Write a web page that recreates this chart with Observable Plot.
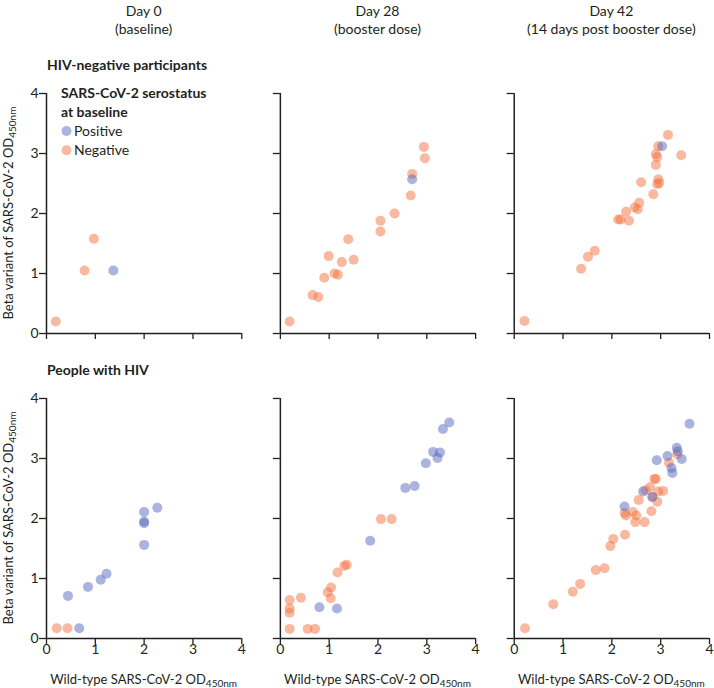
<!DOCTYPE html>
<html>
<head>
<meta charset="utf-8">
<script src="https://cdn.jsdelivr.net/npm/d3@7"></script>
<script src="https://cdn.jsdelivr.net/npm/@observablehq/plot@0.6"></script>
<style>
  body { margin: 0; background: #fff; }
  #chart { width: 714px; height: 688px; }
</style>
</head>
<body>
<div id="chart"></div>
<script>
const FONT = "Lato, 'Noto Sans', sans-serif";
const INK = "#231f20";

const days = ["Day 0", "Day 28", "Day 42"];
const dayNotes = ["(baseline)", "(booster dose)", "(14 days post booster dose)"];
const groups = ["HIV-negative participants", "People with HIV"];
const statuses = ["Positive", "Negative"];
const axisTicks = [0, 1, 2, 3, 4];
const xTitle = "Wild-type SARS-CoV-2 OD";
const yTitle = "Beta variant of SARS-CoV-2 OD";
const subscript = "450nm";
const legendTitle = ["SARS-CoV-2 serostatus", "at baseline"];

// [wild-type OD, beta variant OD]
const hivNegDay0Pos = [[1.37, 1.05]];
const hivNegDay0Neg = [[0.19, 0.20], [0.78, 1.05], [0.97, 1.58]];

const hivNegDay28Pos = [[2.70, 2.57]];
const hivNegDay28Neg = [[0.19, 0.20], [0.66, 0.64], [0.78, 0.61], [0.90, 0.93], [0.99, 1.29],
  [1.11, 1.00], [1.18, 0.98], [1.26, 1.19], [1.39, 1.57], [1.50, 1.23], [2.05, 1.88],
  [2.05, 1.70], [2.34, 2.00], [2.67, 2.30], [2.70, 2.66], [2.94, 3.11], [2.96, 2.92]];

const hivNegDay42Pos = [[3.03, 3.12]];
const hivNegDay42Neg = [[0.21, 0.21], [1.37, 1.08], [1.51, 1.28], [1.65, 1.38], [2.13, 1.90],
  [2.18, 1.90], [2.35, 1.88], [2.29, 2.03], [2.47, 2.10], [2.53, 2.07], [2.56, 2.18],
  [2.60, 2.52], [2.85, 2.32], [2.90, 2.81], [2.90, 2.99], [2.93, 2.94], [2.95, 3.12],
  [2.95, 2.57], [2.93, 2.49], [2.97, 2.51], [3.15, 3.31], [3.42, 2.97]];

const hivPosDay0Pos = [[0.67, 0.17], [0.44, 0.71], [0.85, 0.86], [1.11, 0.98], [1.23, 1.08],
  [2.00, 1.56], [2.00, 1.92], [2.00, 1.95], [2.00, 2.11], [2.27, 2.18]];
const hivPosDay0Neg = [[0.21, 0.17], [0.43, 0.17]];

const hivPosDay28Pos = [[0.80, 0.52], [1.16, 0.50], [1.84, 1.63], [2.56, 2.51], [2.75, 2.54],
  [2.98, 2.92], [3.13, 3.11], [3.22, 3.01], [3.27, 3.10], [3.33, 3.49], [3.46, 3.60]];
const hivPosDay28Neg = [[0.19, 0.16], [0.56, 0.16], [0.71, 0.16], [0.19, 0.43], [0.19, 0.50],
  [0.19, 0.64], [0.42, 0.68], [0.97, 0.77], [1.03, 0.67], [1.04, 0.85], [1.17, 1.10],
  [1.31, 1.21], [1.36, 1.23], [2.06, 1.99], [2.28, 1.99]];

const hivPosDay42Pos = [[2.26, 2.20], [2.64, 2.45], [2.83, 2.36], [2.92, 2.97], [3.14, 3.04],
  [3.22, 2.84], [3.24, 2.76], [3.33, 3.18], [3.35, 3.12], [3.43, 2.99], [3.59, 3.58]];
const hivPosDay42Neg = [[0.22, 0.17], [0.80, 0.57], [1.20, 0.78], [1.35, 0.91], [1.67, 1.14],
  [1.85, 1.17], [1.97, 1.54], [2.03, 1.66], [2.27, 1.73], [2.26, 2.09], [2.29, 2.05],
  [2.43, 2.11], [2.50, 2.05], [2.48, 1.94], [2.67, 1.94], [2.55, 2.31], [2.81, 2.12],
  [2.69, 2.47], [2.78, 2.52], [2.83, 2.36], [2.87, 2.66], [2.90, 2.66], [2.93, 2.28],
  [2.95, 2.45], [3.05, 2.46], [3.17, 2.93], [3.34, 3.07]];

const panels = [
  [0, 0, hivNegDay0Pos, hivNegDay0Neg], [0, 1, hivNegDay28Pos, hivNegDay28Neg], [0, 2, hivNegDay42Pos, hivNegDay42Neg],
  [1, 0, hivPosDay0Pos, hivPosDay0Neg], [1, 1, hivPosDay28Pos, hivPosDay28Neg], [1, 2, hivPosDay42Pos, hivPosDay42Neg]
];

const rows = [];
for (const [g, d, pos, neg] of panels) {
  for (const [x, y] of neg) rows.push({x, y, status: "Negative", day: days[d], group: groups[g]});
}
for (const [g, d, pos, neg] of panels) {
  for (const [x, y] of pos) rows.push({x, y, status: "Positive", day: days[d], group: groups[g]});
}

const colorRange = ["#5569bd", "#f37341"];
const DOT_R = 5;
const DOT_OP = 0.5;

const plot = Plot.plot({
  width: 714,
  height: 688,
  marginTop: 93,
  marginBottom: 50,
  marginLeft: 46,
  marginRight: 5,
  style: {fontFamily: FONT, fontSize: "14px", color: INK, background: "#fff"},
  fx: {domain: days, paddingInner: 0.165, paddingOuter: 0, axis: null, round: false},
  fy: {domain: groups, paddingInner: 0.213, paddingOuter: 0, axis: null, round: false},
  x: {domain: [0, 4], label: null},
  y: {domain: [0, 4], label: null},
  color: {domain: statuses, range: colorRange},
  marks: [
    Plot.axisX({facetAnchor: null, ticks: axisTicks, tickSize: 6, tickFormat: () => "", label: null, stroke: INK, strokeWidth: 1.3}),
    Plot.axisX({facetAnchor: "bottom", ticks: axisTicks, tickSize: 0, tickPadding: 6, tickFormat: d3.format("d"), label: null, fontSize: 14, fill: INK}),
    Plot.axisY({facetAnchor: null, ticks: axisTicks, tickSize: 7, tickFormat: () => "", label: null, stroke: INK, strokeWidth: 1.3}),
    Plot.axisY({facetAnchor: "left", ticks: axisTicks, tickSize: 0, tickPadding: 8, tickFormat: d3.format("d"), label: null, fontSize: 14, fill: INK}),
    Plot.ruleX([0], {y1: 0, y2: 4, stroke: INK, strokeWidth: 1.5}),
    Plot.ruleY([0], {x1: 0, x2: 4, stroke: INK, strokeWidth: 1.5}),
    Plot.dot(rows, {x: "x", y: "y", fx: "day", fy: "group", fill: "status", r: DOT_R, fillOpacity: DOT_OP, stroke: null})
  ]
});

document.getElementById("chart").appendChild(plot);

const svg = d3.select(plot);
const fx = plot.scale("fx");
const fy = plot.scale("fy");
const color = plot.scale("color");
const bwX = fx.bandwidth;
const bwY = fy.bandwidth;

const ann = svg.append("g").attr("font-family", FONT).attr("fill", INK);

// Column headers
days.forEach((d, i) => {
  const cx = fx.apply(d) + bwX / 2;
  ann.append("text").attr("x", cx).attr("y", 16).attr("text-anchor", "middle").attr("font-size", 14).text(d);
  ann.append("text").attr("x", cx).attr("y", 34).attr("text-anchor", "middle").attr("font-size", 14).text(dayNotes[i]);
});

// Row labels
groups.forEach((g) => {
  const top = fy.apply(g);
  ann.append("text").attr("x", fx.apply(days[0]) + 1).attr("y", top - 23)
    .attr("text-anchor", "start").attr("font-size", 14).attr("font-weight", 700).text(g);
});

// Y axis titles
groups.forEach((g) => {
  const cy = fy.apply(g) + bwY / 2;
  const t = ann.append("text").attr("transform", `translate(13,${cy}) rotate(-90)`)
    .attr("text-anchor", "middle").attr("font-size", 13);
  t.append("tspan").text(yTitle);
  t.append("tspan").attr("font-size", 10).attr("dy", 3).text(subscript);
});

// X axis titles
days.forEach((d) => {
  const cx = fx.apply(d) + bwX / 2;
  const t = ann.append("text").attr("x", cx).attr("y", 684)
    .attr("text-anchor", "middle").attr("font-size", 13);
  t.append("tspan").text(xTitle);
  t.append("tspan").attr("font-size", 10).attr("dy", 3).text(subscript);
});

// Legend inside first panel
const lx = fx.apply(days[0]);
const ly = fy.apply(groups[0]);
legendTitle.forEach((line, i) => {
  ann.append("text").attr("x", lx + 15).attr("y", ly + 5 + i * 19)
    .attr("text-anchor", "start").attr("font-size", 14).attr("font-weight", 700).text(line);
});
statuses.forEach((s, i) => {
  const yy = ly + 38 + i * 19.3;
  ann.append("circle").attr("cx", lx + 20.5).attr("cy", yy).attr("r", DOT_R)
    .attr("fill", color.apply(s)).attr("fill-opacity", DOT_OP);
  ann.append("text").attr("x", lx + 28).attr("y", yy + 5)
    .attr("text-anchor", "start").attr("font-size", 14).text(s);
});
</script>
</body>
</html>
